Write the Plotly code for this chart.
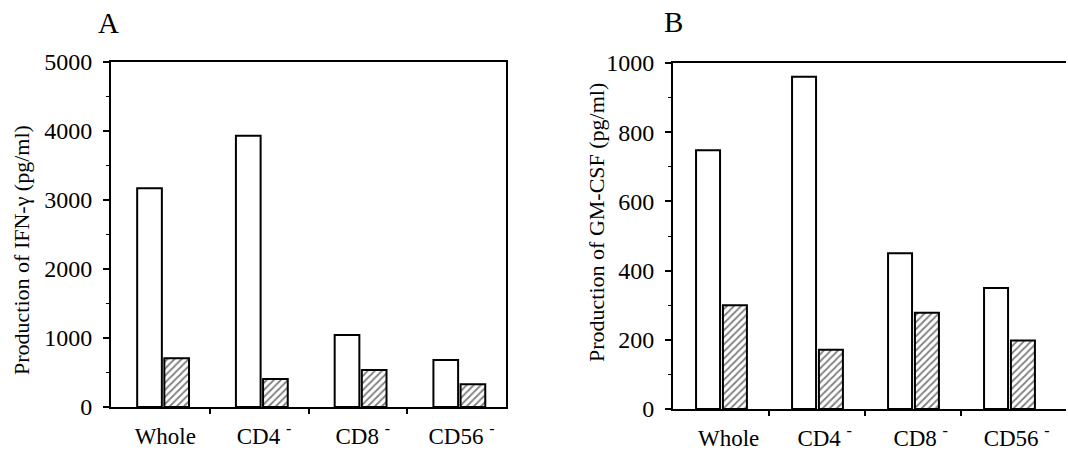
import plotly.graph_objects as go

# ---- data ----
categories = ["Whole", "CD4 <sup>-</sup>", "CD8 <sup>-</sup>", "CD56 <sup>-</sup>"]
ifn_open = [3170, 3930, 1045, 680]
ifn_hatched = [705, 405, 535, 330]
gm_open = [748, 960, 450, 350]
gm_hatched = [300, 171, 278, 198]
ifn_ticks = [0, 1000, 2000, 3000, 4000, 5000]
gm_ticks = [0, 200, 400, 600, 800, 1000]
panel_labels = ["A", "B"]
y_titles = ["Production of IFN-γ (pg/ml)", "Production of GM-CSF (pg/ml)"]

W, H = 1068, 451
FONT = "Liberation Serif, Times New Roman, serif"
xs = list(range(len(categories)))


def px(x):
    return x / W


def py(y):
    return 1 - y / H


fig = go.Figure()

open_marker = dict(color="white", line=dict(color="black", width=2))
hatch_marker = dict(
    color="white",
    line=dict(color="black", width=2),
    pattern=dict(shape="/", fgcolor="black", bgcolor="white", size=5, solidity=0.35),
)

# Panel A
fig.add_trace(go.Bar(x=xs, y=ifn_open, width=0.25, offset=-0.235, marker=open_marker,
                     xaxis="x", yaxis="y", showlegend=False))
fig.add_trace(go.Bar(x=xs, y=ifn_hatched, width=0.25, offset=0.04, marker=hatch_marker,
                     xaxis="x", yaxis="y", showlegend=False))
# Panel B
fig.add_trace(go.Bar(x=xs, y=gm_open, width=0.25, offset=-0.26, marker=open_marker,
                     xaxis="x2", yaxis="y2", showlegend=False))
fig.add_trace(go.Bar(x=xs, y=gm_hatched, width=0.25, offset=0.02, marker=hatch_marker,
                     xaxis="x2", yaxis="y2", showlegend=False))

xcommon = dict(
    tickmode="array", ticktext=categories, ticks="",
    showline=True, linecolor="black", linewidth=2, mirror=True,
    showgrid=False, zeroline=False, automargin=False,
    tickfont=dict(family=FONT, size=23, color="black"),
    ticklabelstandoff=7,
    minor=dict(tickvals=[0.5, 1.5, 2.5], ticks="outside", ticklen=5, tickwidth=1.5,
               tickcolor="black", showgrid=False),
    fixedrange=True,
)
ycommon = dict(
    tickmode="array", ticks="outside", ticklen=6, tickwidth=1.5, tickcolor="black",
    showline=True, linecolor="black", linewidth=2,
    showgrid=False, zeroline=False, automargin=False,
    tickfont=dict(family=FONT, size=24, color="black"),
    ticklabelstandoff=6,
    fixedrange=True,
)

fig.update_layout(
    width=W, height=H,
    margin=dict(l=0, r=0, t=0, b=0, autoexpand=False),
    paper_bgcolor="white", plot_bgcolor="white",
    barmode="overlay",
    xaxis=dict(**xcommon, tickvals=[x + 0.05 for x in xs],
               domain=[px(111), px(506)], range=[-0.5, 3.5], anchor="y"),
    yaxis=dict(**ycommon, domain=[py(407), py(62)], range=[0, 5000], tickvals=ifn_ticks,
               mirror=True, anchor="x",
               minor=dict(dtick=500, tick0=0, ticks="outside", ticklen=3, tickwidth=1,
                          tickcolor="black", showgrid=False)),
    xaxis2=dict(**xcommon, tickvals=[x + 0.08 for x in xs],
                domain=[px(673), px(1066)], range=[-0.5, -0.5 + 393 / 96], anchor="y2"),
    yaxis2=dict(**ycommon, domain=[py(409), py(63)], range=[0, 1000], tickvals=gm_ticks,
                mirror=False, anchor="x2",
                minor=dict(dtick=100, tick0=0, ticks="outside", ticklen=3, tickwidth=1,
                           tickcolor="black", showgrid=False)),
    annotations=[
        dict(text=panel_labels[0], x=px(108), y=py(23), xref="paper", yref="paper",
             xanchor="center", yanchor="middle",
             showarrow=False, font=dict(family=FONT, size=29, color="black")),
        dict(text=panel_labels[1], x=px(673), y=py(22), xref="paper", yref="paper",
             xanchor="center", yanchor="middle",
             showarrow=False, font=dict(family=FONT, size=29, color="black")),
        dict(text=y_titles[0], x=px(21), y=py(250), xref="paper", yref="paper",
             xanchor="center", yanchor="middle",
             showarrow=False, textangle=-90, font=dict(family=FONT, size=22, color="black")),
        dict(text=y_titles[1], x=px(597), y=py(223), xref="paper", yref="paper",
             xanchor="center", yanchor="middle",
             showarrow=False, textangle=-90, font=dict(family=FONT, size=22, color="black")),
    ],
)

fig.write_html("out.html")
